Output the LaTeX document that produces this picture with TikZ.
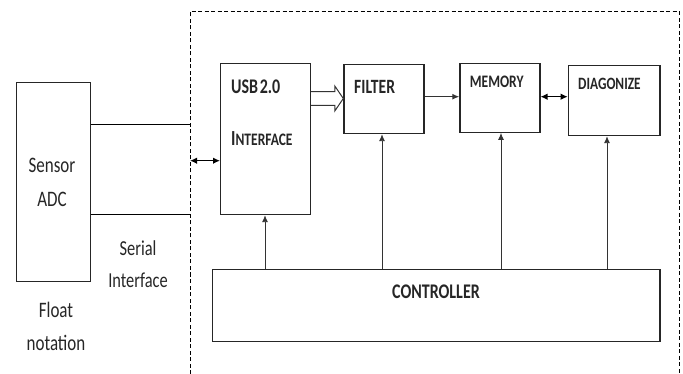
\documentclass[tikz,border=0pt]{standalone}
\usepackage{graphicx}
\usepackage{fontspec}
\setmainfont{Carlito}
\usetikzlibrary{arrows.meta,calc}
\newcommand\vst[1]{\scalebox{1}[1.3]{#1}}
\tikzset{
  blk/.style={draw=black!85, line width=1.2pt, anchor=north west, inner sep=0pt},
  lbl/.style={inner sep=0pt, text=black!85},
  bl/.style={lbl, font=\bfseries},
  conn/.style={line width=0.9pt, draw=black!80, -{Latex[length=7pt,width=6pt]}},
  dconn/.style={line width=1.2pt, {Latex[length=7pt,width=6.5pt]}-{Latex[length=7pt,width=6.5pt]}},
  frame/.style={line width=0.9pt, dash pattern=on 4pt off 2.5pt}
}
\begin{document}
\begin{tikzpicture}[x=1pt,y=-1pt]
\useasboundingbox (0,0) rectangle (683,374);
% dashed frame
\coordinate (fbl) at (190,374);
\coordinate (ftl) at (190,11.7);
\coordinate (ftr) at (679.5,11.7);
\coordinate (fbr) at (679.5,374);
\draw[frame] (fbl) -- (ftl) -- (ftr) -- (fbr);
% boxes
\node[blk, minimum width=74.3pt, minimum height=198.7pt] (sensor) at (15.7,82.3) {};
\node[blk, minimum width=90pt, minimum height=150.7pt] (usb) at (220,63.3) {};
\node[blk, minimum width=80pt, minimum height=69pt] (filter) at (343.3,64) {};
\node[blk, minimum width=80pt, minimum height=69pt] (memory) at (459.3,62.7) {};
\node[blk, minimum width=91.6pt, minimum height=70pt] (diag) at (567.7,65) {};
\node[blk, minimum width=447.6pt, minimum height=71.7pt] (ctrl) at (211.7,269) {};
% labels
\node[lbl, font=\fontsize{17}{20}\selectfont] (tsensor) at (52,165) {\vst{Sensor}};
\node[lbl, font=\fontsize{17}{20}\selectfont] (tadc) at (52,199) {\vst{ADC}};
\node[lbl, font=\fontsize{16.4}{20}\selectfont] (tserial) at (138,248) {\vst{Serial}};
\node[lbl, font=\fontsize{16.4}{20}\selectfont] (tinterface) at (138,280) {\vst{Interface}};
\node[lbl, font=\fontsize{17}{20}\selectfont] (tfloat) at (56,310) {\vst{Float}};
\node[lbl, font=\fontsize{17}{20}\selectfont] (tnotation) at (56,343) {\vst{notation}};
\node[bl, anchor=west, font=\bfseries\fontsize{16}{19}\selectfont] (tusb) at (231,87) {\vst{USB\kern-2pt\ 2.0}};
\node[bl, anchor=base west] (tusbi) at (231,146) {\vst{{\fontsize{16.5}{19}\selectfont I}{\fontsize{13.5}{19}\selectfont NTERFACE}}};
\node[bl, anchor=west, font=\bfseries\fontsize{15.6}{19}\selectfont] (tfilter) at (354,87) {\vst{FILTER}};
\node[bl, font=\bfseries\fontsize{13.5}{19}\selectfont] (tmemory) at (496.7,81.7) {\vst{MEMORY}};
\node[bl, anchor=west, font=\bfseries\fontsize{13.3}{19}\selectfont] (tdiag) at (578,84.3) {\vst{DIAGONIZE}};
\node[bl, font=\bfseries\fontsize{16}{19}\selectfont] (tctrl) at (436,291.7) {\vst{CONTROLLER}};
% sensor to frame lines
\coordinate (s1) at (190,124);
\coordinate (s2) at (190,214);
\draw[line width=0.9pt] (sensor.east |- s1) -- (s1);
\draw[line width=0.9pt] (sensor.east |- s2) -- (s2);
% bidirectional to USB
\coordinate (b1) at (190,160.7);
\draw[dconn] (b1) -- (usb.west |- b1);
% hollow arrow usb -> filter
\coordinate (h) at (0,98.5);
\draw[line width=1pt, draw=black!80, fill=white]
  ($(usb.east |- h)+(0,-6.8)$) -- ($(filter.west |- h)+(-8.5,-6.8)$) -- ($(filter.west |- h)+(-8.5,-12.5)$)
  -- (filter.west |- h) -- ($(filter.west |- h)+(-8.5,12.5)$) -- ($(filter.west |- h)+(-8.5,6.8)$)
  -- ($(usb.east |- h)+(0,6.8)$);
% filter -> memory
\coordinate (m1) at (0,96.7);
\draw[conn, line width=1.2pt] (filter.east |- m1) -- (memory.west |- m1);
\draw[dconn] (memory.east |- m1) -- (diag.west |- m1);
% controller arrows
\draw[conn] (ctrl.north -| 265,0) -- (usb.south -| 265,0);
\draw[conn] (ctrl.north -| 382,0) -- (filter.south -| 382,0);
\draw[conn] (ctrl.north -| 501,0) -- (memory.south -| 501,0);
\draw[conn] (ctrl.north -| 607,0) -- (diag.south -| 607,0);
\end{tikzpicture}
\end{document}
